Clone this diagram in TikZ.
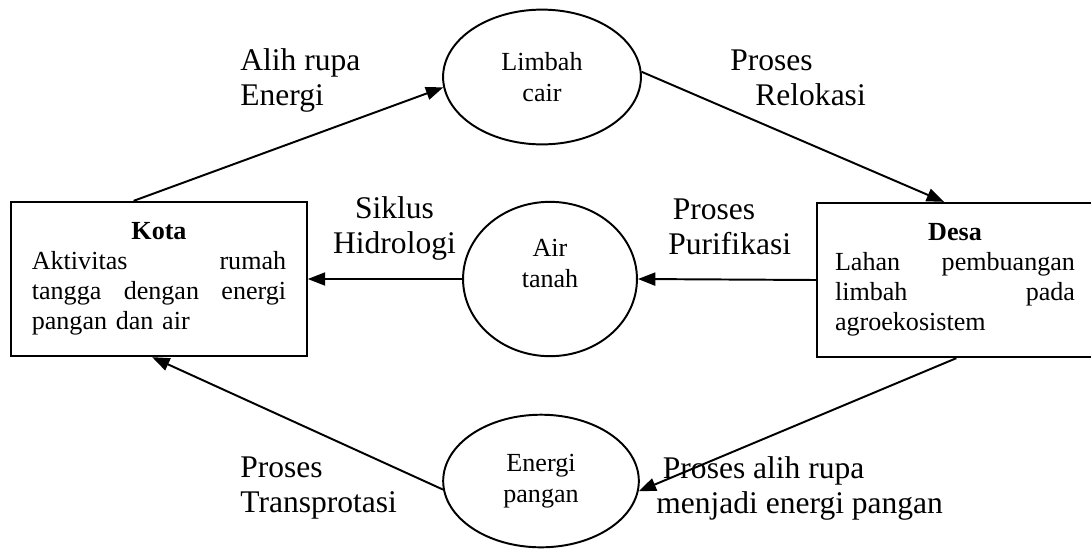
\documentclass[tikz,border=0pt]{standalone}
\usepackage{fontspec}
\setmainfont{Liberation Serif}
\usetikzlibrary{arrows.meta,shapes.geometric,positioning}

\tikzset{
  place/.style={draw, line width=0.9pt, rectangle, text width=#1, align=left,
    inner sep=0pt, minimum height=71pt, font=\fontsize{12}{13.8}\selectfont},
  bubble/.style={draw, line width=0.9pt, ellipse, align=center, inner sep=0pt,
    font=\fontsize{12}{14.3}\selectfont},
  flow/.style={line width=0.9pt, -{Triangle[length=8pt,width=6pt]}},
  caption/.style={align=left, inner sep=0pt, font=\fontsize{14.5}{16.1}\selectfont}
}
\newcommand{\boxtitle}[1]{\makebox[\linewidth]{\textbf{#1}}\\}

\begin{document}
\begin{tikzpicture}[x=0.46pt, y=-0.46pt]
%\draw [help lines, step=50](0,0) grid (1091,551);
\useasboundingbox (0,0) rectangle (1091,551);

\node[place=117pt, minimum width=136pt] (kota) at (159,279)
  {\boxtitle{Kota}Aktivitas\hfill rumah\\ tangga\hfill dengan\hfill energi\\ pangan dan air};
\node[place=110.4pt, minimum width=127pt] (desa) at (955,280)
  {\boxtitle{Desa}Lahan\hfill pembuangan\\ limbah\hfill pada\\ agroekosistem};

\node[bubble, minimum width=91pt, minimum height=62pt] (limbah) at (542,77) {Limbah\\ cair};
\node[bubble, minimum width=80pt, minimum height=71pt] (air) at (550,279) {Air\\ tanah\\ \vphantom{A}};
\node[bubble, minimum width=90pt, minimum height=61pt] (pangan) at (541,481) {Energi\\ pangan};

\draw [flow] (kota.108.7) -- (limbah.186);
\draw [flow] (limbah.3) -- (desa.98.9);
\draw [flow] (desa.west) -- (air.east);
\draw [flow] (air.west) -- (kota.east);
\draw [flow] (desa.271.5) -- (pangan.-6);
\draw [flow] (pangan.185) -- (kota.265.6);

\node[caption, anchor=west] (alihrupa) at (240,80) {Alih rupa\\ Energi};
\node[caption, anchor=west] (relokasi) at (730,78) {Proses\\ \hspace*{11.5pt}Relokasi};
\node[caption, align=center] (siklus) at (394.5,228) {Siklus\\ Hidrologi};
\node[caption, anchor=west] (purifikasi) at (668,227) {\hspace*{2pt}Proses\\ Purifikasi};
\node[caption, anchor=west] (transpor) at (240,488) {Proses\\ Transprotasi};
\node[caption, anchor=west] (olahpangan) at (656,488) {\hspace*{3pt}Proses alih rupa\\ menjadi energi pangan};

\end{tikzpicture}
\end{document}
